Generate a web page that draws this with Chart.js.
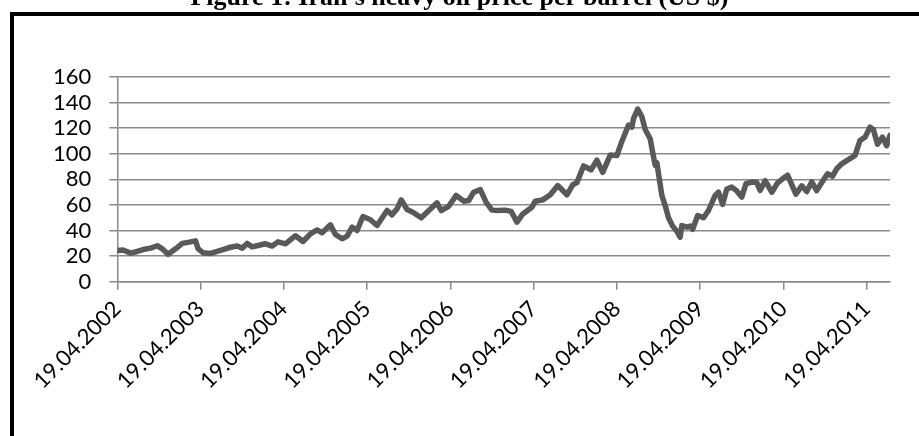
<!DOCTYPE html>
<html>
<head>
<meta charset="utf-8">
<script src="https://cdn.jsdelivr.net/npm/chart.js@4/dist/chart.umd.min.js"></script>
<style>
  body { margin: 0; background: #fff; overflow: hidden; }
  #wrap { position: relative; width: 919px; height: 436px; overflow: hidden; }
  #titulo {
    position: absolute; left: 0; width: 919px; top: -18px; text-align: center;
    font: bold 26px "Liberation Serif", "Times New Roman", serif; color: #000;
  }
  #moldura {
    position: absolute; left: 10px; top: 12px; width: 1000px; height: 1000px;
    border: 4px solid #000; pointer-events: none;
  }
  #grafico { position: absolute; left: 0; top: 0; }
</style>
</head>
<body>
<div id="wrap">
  <canvas id="grafico" width="919" height="436"></canvas>
  <div id="moldura"></div>
  <div id="titulo">Figure 1: Iran's heavy oil price per barrel (US $)</div>
</div>
<script>
// anos desde 19.04.2002 (eixo x) e preco em US$ por barril
var anos = [0.00, 0.07, 0.16, 0.24, 0.31, 0.40, 0.48, 0.54, 0.61, 0.70, 0.78, 0.85, 0.94, 0.97,
  1.03, 1.12, 1.20, 1.27, 1.36, 1.44, 1.50, 1.56, 1.62, 1.69, 1.78, 1.86, 1.93,
  2.02, 2.14, 2.23, 2.32, 2.40, 2.46, 2.56, 2.62, 2.70, 2.76, 2.82, 2.88, 2.95,
  3.04, 3.12, 3.24, 3.30, 3.36, 3.41, 3.48, 3.55, 3.65, 3.72, 3.84, 3.89, 3.98,
  4.07, 4.16, 4.22, 4.28, 4.36, 4.43, 4.50, 4.57, 4.66, 4.73, 4.80, 4.87, 4.98,
  5.02, 5.11, 5.20, 5.29, 5.40, 5.47, 5.52, 5.60, 5.69, 5.76, 5.83, 5.92,
  6.00, 6.05, 6.10, 6.14, 6.18, 6.20, 6.25, 6.30, 6.34, 6.40, 6.43, 6.46, 6.48, 6.52, 6.54, 6.58, 6.62, 6.67, 6.72, 6.76, 6.78, 6.84, 6.88, 6.91, 6.97,
  7.04, 7.10, 7.18, 7.22, 7.27, 7.32, 7.38, 7.44, 7.50, 7.55, 7.62, 7.68, 7.72, 7.78, 7.86, 7.93, 7.99,
  8.05, 8.10, 8.15, 8.22, 8.28, 8.34, 8.40, 8.47, 8.53, 8.59, 8.64, 8.70, 8.77, 8.86, 8.92, 8.98,
  9.04, 9.08, 9.13, 9.19, 9.24, 9.28];

var precos = [24.5, 24.8, 22.4, 23.7, 25.2, 26.3, 28.2, 25.8, 21.5, 25.8, 30.0, 30.8, 32.0, 26.0,
  22.7, 22.2, 23.7, 25.2, 27.0, 28.0, 26.3, 30.0, 27.3, 28.4, 29.7, 27.9, 31.2,
  29.7, 36.0, 31.5, 37.5, 40.5, 38.3, 44.5, 37.0, 33.6, 35.7, 42.7, 40.1, 51.0,
  48.5, 44.0, 55.7, 52.3, 57.0, 64.0, 56.5, 54.4, 50.0, 54.4, 61.7, 55.7, 59.0,
  67.5, 63.0, 63.5, 70.0, 72.0, 62.0, 56.0, 55.7, 56.0, 55.0, 46.6, 53.0, 58.3,
  63.0, 64.0, 68.0, 75.2, 68.0, 75.8, 77.5, 90.5, 87.5, 95.0, 85.5, 99.0,
  98.7, 108.0, 116.0, 122.5, 120.8, 127.5, 135.0, 129.0, 119.0, 111.7, 101.0, 91.0, 93.0, 76.0, 67.5, 59.6, 50.0, 43.5, 39.5, 35.0, 44.0, 42.7, 43.5, 41.0, 51.8,
  50.0, 55.7, 67.5, 70.0, 60.5, 72.5, 74.0, 71.0, 66.2, 76.6, 77.9, 77.5, 71.3, 79.0, 70.0, 77.3, 80.5,
  83.3, 76.0, 68.5, 75.0, 70.5, 78.0, 71.3, 78.5, 84.4, 82.5, 88.3, 92.2, 95.0, 98.7, 110.4, 113.0,
  120.8, 119.0, 107.5, 113.0, 106.3, 114.5];

var anoInicial = 2002;
var rotuloData = '19.04.';
var fonteEixo = { family: 'Lato, "DejaVu Sans", sans-serif', size: 22 };
var corGrade = '#8a8a8a';

var pontos = [];
for (var i = 0; i < anos.length; i++) {
  pontos.push({ x: anos[i], y: precos[i] });
}

var ctx = document.getElementById('grafico');
var grafico = new Chart(ctx, {
  type: 'line',
  data: {
    datasets: [{
      label: 'Iran heavy',
      data: pontos,
      borderColor: '#595959',
      borderWidth: 5.5,
      borderJoinStyle: 'round',
      borderCapStyle: 'round',
      pointRadius: 0,
      tension: 0,
      fill: false
    }]
  },
  options: {
    responsive: false,
    animation: false,
    layout: { padding: { left: 35, top: 77, right: 29, bottom: 36 } },
    plugins: {
      legend: { display: false },
      tooltip: { enabled: false }
    },
    scales: {
      x: {
        type: 'linear',
        min: 0,
        max: 9.28,
        border: { color: corGrade, width: 1.5 },
        grid: { drawOnChartArea: false, drawTicks: true, tickLength: 8, color: corGrade, lineWidth: 1.5 },
        ticks: {
          stepSize: 1,
          includeBounds: false,
          autoSkip: false,
          minRotation: 45,
          maxRotation: 45,
          color: '#000',
          font: fonteEixo,
          padding: 6,
          callback: function(v) { return rotuloData + (anoInicial + v); }
        }
      },
      y: {
        min: 0,
        max: 160,
        border: { color: corGrade, width: 1.5 },
        grid: { tickLength: 8, color: corGrade, lineWidth: 1.5 },
        ticks: { stepSize: 20, autoSkip: false, padding: 18, color: '#000', font: fonteEixo }
      }
    }
  }
});
</script>
</body>
</html>
